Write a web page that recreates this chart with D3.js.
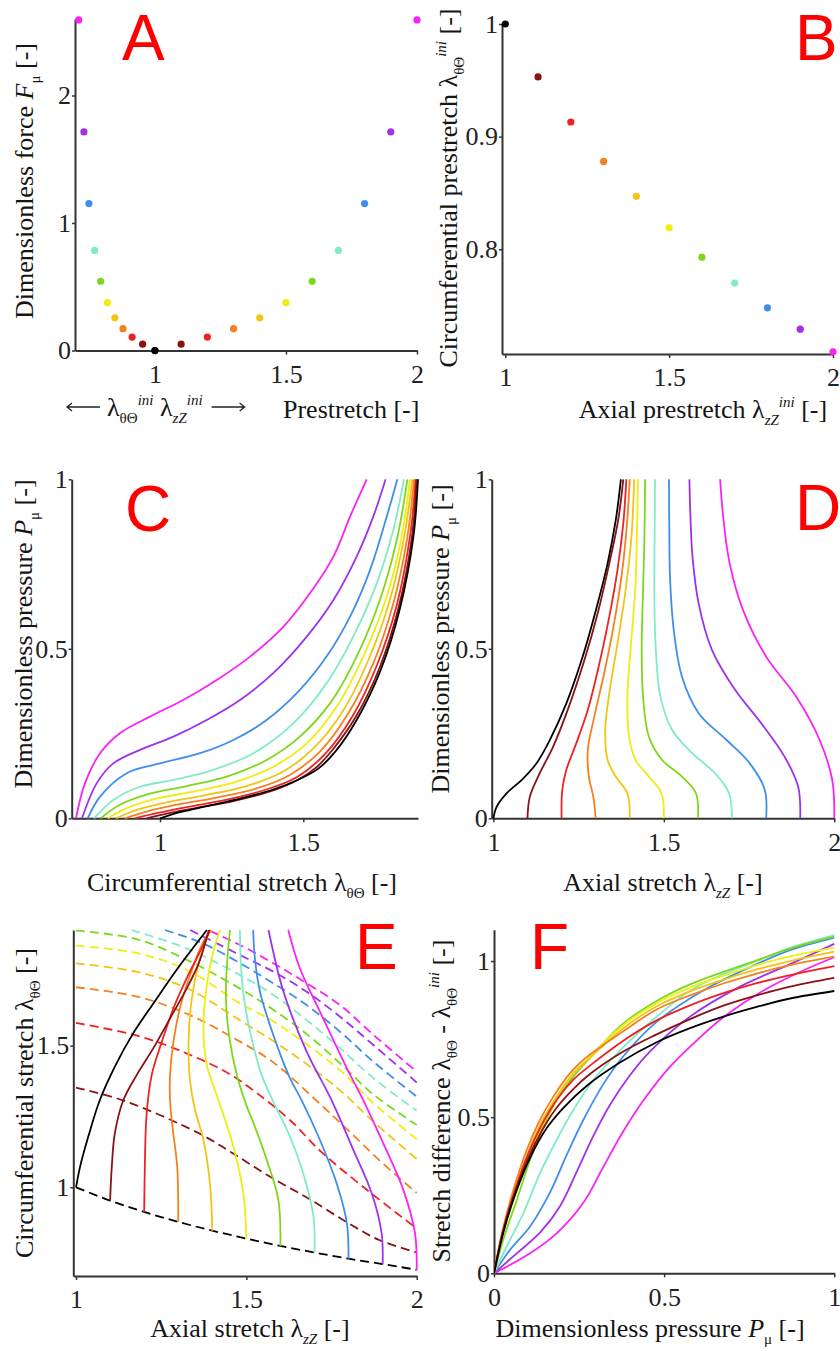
<!DOCTYPE html>
<html>
<head>
<meta charset="utf-8">
<script src="https://cdn.jsdelivr.net/npm/d3@7"></script>
<style>
  body { margin: 0; background: #fff; }
</style>
</head>
<body>
<div id="container"></div>
<script>
// ---- data ----
// prestretch pairs (panels A, B, bottom dashed line of E)
const lamZIni = [1.0, 1.1, 1.2, 1.3, 1.4, 1.5, 1.6, 1.7, 1.8, 1.9, 2.0];
const lamThetaIni = [1.000, 0.953, 0.913, 0.878, 0.847, 0.819, 0.793, 0.770, 0.748, 0.729, 0.709];
const forceF = [0, 0.050, 0.105, 0.171, 0.257, 0.375, 0.543, 0.785, 1.152, 1.714, 2.593];

// C: circumferential stretch vs pressure, one curve per prestretch
const curvesC = [
  [[1.0,0],[1.07,0.018],[1.163,0.036],[1.279,0.058],[1.395,0.085],[1.48,0.113],[1.55,0.145],[1.61,0.195],[1.686,0.29],[1.77,0.438],[1.837,0.619],[1.884,0.831],[1.9,1.0]],
  [[0.953,0],[1.023,0.014],[1.128,0.031],[1.256,0.051],[1.384,0.079],[1.48,0.113],[1.545,0.15],[1.6,0.2],[1.68,0.295],[1.765,0.442],[1.833,0.624],[1.879,0.831],[1.895,1.0]],
  [[0.913,0],[0.988,0.015],[1.093,0.033],[1.233,0.055],[1.36,0.082],[1.477,0.121],[1.576,0.19],[1.672,0.302],[1.756,0.45],[1.826,0.629],[1.872,0.831],[1.892,1.0]],
  [[0.878,0],[0.953,0.02],[1.058,0.04],[1.198,0.061],[1.337,0.088],[1.453,0.128],[1.558,0.197],[1.657,0.31],[1.744,0.457],[1.814,0.634],[1.863,0.831],[1.886,1.0]],
  [[0.847,0],[0.919,0.025],[1.023,0.047],[1.163,0.069],[1.302,0.095],[1.43,0.138],[1.535,0.206],[1.64,0.319],[1.727,0.467],[1.802,0.644],[1.852,0.831],[1.88,1.0]],
  [[0.818,0],[0.884,0.03],[0.977,0.056],[1.116,0.079],[1.256,0.105],[1.395,0.152],[1.512,0.221],[1.616,0.329],[1.709,0.477],[1.791,0.654],[1.843,0.831],[1.872,1.0]],
  [[0.793,0],[0.86,0.04],[0.953,0.07],[1.093,0.095],[1.233,0.123],[1.372,0.172],[1.488,0.241],[1.593,0.339],[1.686,0.477],[1.767,0.644],[1.826,0.821],[1.863,1.0]],
  [[0.77,0],[0.837,0.054],[0.93,0.093],[1.047,0.113],[1.186,0.143],[1.326,0.192],[1.465,0.28],[1.581,0.398],[1.674,0.536],[1.756,0.693],[1.814,0.851],[1.851,1.0]],
  [[0.748,0],[0.791,0.064],[0.884,0.133],[1.0,0.162],[1.14,0.192],[1.256,0.231],[1.372,0.29],[1.488,0.379],[1.581,0.477],[1.663,0.595],[1.733,0.733],[1.791,0.89],[1.828,1.0]],
  [[0.728,0],[0.779,0.103],[0.837,0.162],[0.93,0.202],[1.047,0.241],[1.163,0.29],[1.279,0.349],[1.395,0.428],[1.512,0.536],[1.605,0.644],[1.686,0.772],[1.744,0.89],[1.787,1.0]],
  [[0.707,0],[0.738,0.103],[0.791,0.192],[0.86,0.251],[0.965,0.3],[1.081,0.349],[1.198,0.408],[1.314,0.477],[1.43,0.565],[1.523,0.664],[1.605,0.772],[1.663,0.89],[1.721,1.0]]
];

// D: axial stretch vs pressure
const curvesD = [
  [[1.0,0],[1.01,0.035],[1.04,0.075],[1.085,0.115],[1.125,0.16],[1.165,0.23],[1.214,0.339],[1.262,0.477],[1.301,0.615],[1.335,0.752],[1.359,0.88],[1.374,1.0]],
  [[1.1,0],[1.107,0.064],[1.136,0.133],[1.175,0.211],[1.218,0.32],[1.267,0.467],[1.306,0.605],[1.34,0.752],[1.366,0.88],[1.381,1.0]],
  [[1.2,0],[1.202,0.084],[1.214,0.143],[1.243,0.221],[1.277,0.32],[1.311,0.457],[1.34,0.595],[1.364,0.733],[1.381,0.87],[1.39,1.0]],
  [[1.3,0],[1.293,0.064],[1.28,0.123],[1.277,0.202],[1.296,0.3],[1.325,0.428],[1.354,0.575],[1.377,0.723],[1.392,0.87],[1.4,1.0]],
  [[1.4,0],[1.393,0.074],[1.359,0.123],[1.335,0.172],[1.328,0.261],[1.34,0.369],[1.364,0.516],[1.388,0.674],[1.405,0.831],[1.413,1.0]],
  [[1.5,0],[1.493,0.074],[1.456,0.123],[1.417,0.172],[1.398,0.241],[1.393,0.359],[1.403,0.506],[1.416,0.674],[1.421,0.831],[1.424,1.0]],
  [[1.6,0],[1.594,0.074],[1.553,0.123],[1.495,0.172],[1.456,0.241],[1.439,0.359],[1.435,0.506],[1.439,0.674],[1.443,0.831],[1.445,1.0]],
  [[1.7,0],[1.691,0.074],[1.65,0.133],[1.583,0.192],[1.524,0.261],[1.49,0.359],[1.476,0.506],[1.472,0.674],[1.473,0.831],[1.474,1.0]],
  [[1.8,0],[1.796,0.084],[1.752,0.162],[1.684,0.231],[1.602,0.31],[1.553,0.418],[1.529,0.556],[1.518,0.713],[1.516,0.851],[1.515,1.0]],
  [[1.9,0],[1.894,0.093],[1.854,0.182],[1.786,0.28],[1.709,0.379],[1.641,0.497],[1.602,0.634],[1.584,0.772],[1.578,0.89],[1.575,1.0]],
  [[2.0,0],[1.994,0.113],[1.957,0.231],[1.888,0.359],[1.8,0.477],[1.732,0.615],[1.693,0.752],[1.675,0.88],[1.665,1.0]]
];

// E: solid = loading path per prestretch, dashed = iso-pressure lines (P = 0.1 ... 1)
const solidE = [
  [[1.0,1.0],[1.012,1.073],[1.036,1.179],[1.07,1.308],[1.114,1.426],[1.168,1.544],[1.227,1.649],[1.295,1.767],[1.354,1.861],[1.384,1.908]],
  [[1.1,0.953],[1.105,1.073],[1.114,1.191],[1.139,1.308],[1.178,1.396],[1.227,1.491],[1.276,1.596],[1.325,1.702],[1.36,1.79],[1.39,1.908]],
  [[1.2,0.913],[1.202,1.073],[1.207,1.255],[1.222,1.396],[1.252,1.514],[1.286,1.632],[1.325,1.738],[1.369,1.844],[1.393,1.908]],
  [[1.3,0.878],[1.297,1.073],[1.283,1.214],[1.276,1.308],[1.276,1.396],[1.286,1.514],[1.305,1.632],[1.335,1.749],[1.369,1.855],[1.395,1.908]],
  [[1.4,0.847],[1.393,1.014],[1.374,1.167],[1.348,1.28],[1.333,1.396],[1.331,1.538],[1.34,1.667],[1.359,1.785],[1.384,1.879],[1.398,1.908]],
  [[1.5,0.818],[1.491,0.979],[1.462,1.143],[1.418,1.308],[1.384,1.432],[1.374,1.573],[1.384,1.714],[1.403,1.832],[1.423,1.908]],
  [[1.6,0.793],[1.594,0.955],[1.56,1.096],[1.525,1.214],[1.5,1.29],[1.472,1.396],[1.449,1.538],[1.44,1.667],[1.443,1.785],[1.452,1.908]],
  [[1.7,0.77],[1.697,0.896],[1.667,1.049],[1.628,1.179],[1.58,1.3],[1.545,1.396],[1.513,1.538],[1.493,1.667],[1.484,1.785],[1.481,1.908]],
  [[1.8,0.748],[1.795,0.873],[1.765,1.014],[1.716,1.167],[1.662,1.308],[1.628,1.385],[1.579,1.538],[1.54,1.69],[1.525,1.808],[1.52,1.908]],
  [[1.9,0.728],[1.897,0.838],[1.868,0.979],[1.814,1.132],[1.75,1.308],[1.677,1.479],[1.609,1.69],[1.565,1.908]],
  [[2.0,0.707],[1.995,0.838],[1.961,0.99],[1.902,1.155],[1.843,1.308],[1.795,1.42],[1.716,1.62],[1.657,1.773],[1.623,1.908]]
];
const dashedE = [
  [[1.0,1.352],[1.14,1.306],[1.36,1.191],[1.46,1.12],[1.57,1.037],[1.69,0.955],[1.8,0.873],[1.89,0.814],[2.0,0.77]],
  [[1.0,1.58],[1.18,1.535],[1.33,1.47],[1.45,1.40],[1.55,1.315],[1.63,1.235],[1.72,1.125],[1.86,0.985],[2.0,0.855]],
  [[1.0,1.706],[1.18,1.673],[1.33,1.61],[1.48,1.515],[1.58,1.44],[1.72,1.29],[1.8,1.2],[1.89,1.096],[2.0,0.98]],
  [[1.0,1.79],[1.18,1.76],[1.33,1.70],[1.48,1.59],[1.58,1.515],[1.68,1.432],[1.78,1.337],[1.87,1.235],[2.0,1.10]],
  [[1.0,1.853],[1.18,1.826],[1.33,1.765],[1.48,1.65],[1.58,1.585],[1.68,1.502],[1.78,1.408],[1.87,1.30],[2.0,1.17]],
  [[1.0,1.906],[1.18,1.875],[1.33,1.8],[1.48,1.702],[1.58,1.626],[1.68,1.538],[1.78,1.432],[1.87,1.33],[2.0,1.22]],
  [[1.163,1.908],[1.32,1.845],[1.481,1.749],[1.579,1.679],[1.677,1.59],[1.775,1.491],[1.873,1.385],[2.0,1.27]],
  [[1.261,1.908],[1.374,1.86],[1.481,1.791],[1.579,1.72],[1.677,1.643],[1.775,1.549],[1.873,1.443],[2.0,1.32]],
  [[1.335,1.908],[1.481,1.82],[1.579,1.761],[1.677,1.69],[1.775,1.602],[1.873,1.502],[2.0,1.37]],
  [[1.393,1.905],[1.491,1.849],[1.58,1.79],[1.677,1.72],[1.775,1.643],[1.873,1.538],[2.0,1.408]]
];

// F: stretch difference vs pressure
const curvesF = [
  [[0,0],[0.032,0.149],[0.067,0.267],[0.106,0.37],[0.155,0.465],[0.204,0.53],[0.272,0.6],[0.37,0.675],[0.478,0.74],[0.576,0.785],[0.674,0.822],[0.772,0.853],[0.87,0.88],[1.0,0.904]],
  [[0,0],[0.027,0.135],[0.062,0.26],[0.101,0.37],[0.14,0.455],[0.184,0.53],[0.233,0.59],[0.282,0.638],[0.38,0.71],[0.478,0.765],[0.576,0.814],[0.674,0.857],[0.772,0.89],[0.87,0.918],[1.0,0.946]],
  [[0,0],[0.027,0.139],[0.062,0.267],[0.101,0.384],[0.14,0.475],[0.184,0.555],[0.233,0.62],[0.282,0.665],[0.38,0.745],[0.478,0.81],[0.576,0.858],[0.674,0.897],[0.772,0.929],[0.87,0.955],[1.0,0.984]],
  [[0,0],[0.023,0.128],[0.057,0.267],[0.096,0.395],[0.135,0.491],[0.174,0.565],[0.223,0.64],[0.262,0.683],[0.38,0.775],[0.478,0.845],[0.576,0.89],[0.674,0.928],[0.772,0.96],[0.87,0.987],[1.0,1.014]],
  [[0,0],[0.025,0.13],[0.062,0.27],[0.101,0.39],[0.14,0.485],[0.184,0.565],[0.233,0.64],[0.282,0.69],[0.38,0.785],[0.478,0.855],[0.576,0.903],[0.674,0.94],[0.772,0.973],[0.87,1.0],[1.0,1.03]],
  [[0,0],[0.027,0.128],[0.067,0.267],[0.106,0.384],[0.145,0.48],[0.184,0.565],[0.233,0.64],[0.272,0.683],[0.38,0.795],[0.478,0.865],[0.576,0.915],[0.674,0.953],[0.772,0.987],[0.87,1.015],[1.0,1.043]],
  [[0,0],[0.027,0.107],[0.067,0.235],[0.106,0.363],[0.145,0.47],[0.184,0.555],[0.233,0.63],[0.282,0.69],[0.38,0.80],[0.478,0.872],[0.576,0.925],[0.674,0.965],[0.772,1.002],[0.87,1.04],[1.0,1.078]],
  [[0,0],[0.037,0.085],[0.086,0.192],[0.135,0.32],[0.184,0.427],[0.233,0.523],[0.292,0.619],[0.341,0.68],[0.429,0.775],[0.576,0.905],[0.674,0.958],[0.772,1.0],[0.87,1.042],[1.0,1.083]],
  [[0,0],[0.047,0.075],[0.106,0.15],[0.165,0.26],[0.214,0.38],[0.262,0.49],[0.321,0.605],[0.38,0.695],[0.478,0.805],[0.625,0.912],[0.772,0.99],[0.87,1.035],[1.0,1.075]],
  [[0,0],[0.067,0.064],[0.135,0.13],[0.194,0.215],[0.243,0.325],[0.292,0.44],[0.341,0.54],[0.40,0.635],[0.458,0.71],[0.576,0.822],[0.723,0.918],[0.87,0.99],[1.0,1.055]],
  [[0,0],[0.1,0.06],[0.184,0.128],[0.262,0.225],[0.321,0.34],[0.38,0.455],[0.45,0.57],[0.52,0.665],[0.6,0.75],[0.674,0.82],[0.791,0.905],[0.899,0.965],[1.0,1.012]]
];

// tick labels
const ticksA = { x: [1, 1.5, 2], y: [0, 1, 2] };
const ticksB = { x: [1, 1.5, 2], y: [0.8, 0.9, 1] };
const ticksC = { x: [1, 1.5], y: [0, 0.5, 1] };
const ticksD = { x: [1, 1.5, 2], y: [0, 0.5, 1] };
const ticksE = { x: [1, 1.5, 2], y: [1, 1.5] };
const ticksF = { x: [0, 0.5, 1], y: [0, 0.5, 1] };

const palette = ["#000000", "#8b1212", "#ee2222", "#f5801e", "#f3c412", "#eeee10",
                 "#7ed81a", "#80ebc8", "#3f8fea", "#9e32ec", "#fa22f4"];

const serif = "Liberation Serif, Times New Roman, serif";
const svg = d3.select("#container").append("svg")
  .attr("width", 840)
  .attr("height", 1351)
  .attr("font-family", serif);

function panel(id, xDom, xRange, yDom, yRange, ticks) {
  const x = d3.scaleLinear().domain(xDom).range(xRange);
  const y = d3.scaleLinear().domain(yDom).range(yRange);
  const g = svg.append("g").attr("id", id);
  svg.append("clipPath").attr("id", "clip-" + id).append("rect")
    .attr("x", xRange[0])
    .attr("y", yRange[1] - 2)
    .attr("width", xRange[1] - xRange[0] + 2)
    .attr("height", yRange[0] - yRange[1] + 4);
  const xAxis = g.append("g")
    .attr("transform", `translate(0,${yRange[0]})`)
    .call(d3.axisBottom(x).tickValues(ticks.x).tickFormat(d => d)
      .tickSizeInner(4).tickSizeOuter(0).tickPadding(10));
  const yAxis = g.append("g")
    .attr("transform", `translate(${xRange[0]},0)`)
    .call(d3.axisLeft(y).tickValues(ticks.y).tickFormat(d => d)
      .tickSizeInner(3).tickSizeOuter(0).tickPadding(1));
  [xAxis, yAxis].forEach(a => {
    a.attr("font-size", 26).attr("font-family", serif);
    a.select(".domain").attr("stroke", "#333").attr("stroke-width", 2);
    a.selectAll(".tick line").attr("stroke", "#333").attr("stroke-width", 1.5);
    a.selectAll(".tick text").attr("fill", "#222");
  });
  const plot = g.append("g").attr("clip-path", `url(#clip-${id})`);
  return { x, y, g, plot };
}

// text with sub/superscripts
function rich(parent, parts, transform, anchor) {
  const t = parent.append("text")
    .attr("font-size", 26)
    .attr("fill", "#151515")
    .attr("text-anchor", anchor || "middle")
    .attr("transform", transform);
  let shift = 0;
  parts.forEach(([s, k]) => {
    let target = 0, size = null, italic = false;
    if (k === "sub") { target = 7; size = 15; }
    if (k === "isub") { target = 7; size = 15; italic = true; }
    if (k === "sup") { target = -11; size = 15; italic = true; }
    if (k === "i") italic = true;
    const ts = t.append("tspan").text(s).attr("dy", target - shift);
    if (size) ts.attr("font-size", size);
    if (italic) ts.attr("font-style", "italic");
    shift = target;
  });
  return t;
}

function letter(txt, x, y) {
  svg.append("text").text(txt)
    .attr("x", x).attr("y", y)
    .attr("font-family", "Liberation Sans, Arial, sans-serif")
    .attr("font-size", 64)
    .attr("fill", "#ff0000");
}

function drawCurves(p, curves, dashed) {
  const line = d3.line()
    .x(d => p.x(d[0]))
    .y(d => p.y(d[1]))
    .curve(d3.curveCatmullRom.alpha(0.5));
  p.plot.selectAll(null).data(curves.map((c, i) => ({ c, i })).reverse())
    .join("path")
    .attr("d", d => line(d.c))
    .attr("fill", "none")
    .attr("stroke", d => palette[d.i + (dashed ? 1 : 0)])
    .attr("stroke-width", 1.8)
    .attr("stroke-dasharray", dashed ? "9,5" : null);
}

const labP = [["Dimensionless pressure ", "n"], ["P", "i"], ["μ", "sub"], [" [-]", "n"]];
const labAxial = [["Axial stretch λ", "n"], ["zZ", "isub"], [" [-]", "n"]];
const labCirc = [["Circumferential stretch λ", "n"], ["θΘ", "sub"], [" [-]", "n"]];

// ---- A ----
const pA = panel("A", [0.695, 2], [75, 417], [0, 2.6], [350.5, 19], ticksA);
const dotsA = lamZIni.map((z, i) => ({ v: lamThetaIni[i], f: forceF[i], i }))
  .concat(lamZIni.map((z, i) => ({ v: z, f: forceF[i], i })));
pA.g.selectAll(".dot").data(dotsA).join("circle")
  .attr("cx", d => pA.x(d.v))
  .attr("cy", d => pA.y(d.f))
  .attr("r", 3.6)
  .attr("fill", d => palette[d.i]);
rich(pA.g, [["Dimensionless force ", "n"], ["F", "i"], ["μ", "sub"], [" [-]", "n"]], "translate(33,181) rotate(-90)");
rich(pA.g, [["Prestretch [-]", "n"]], "translate(283,418)", "start");
const arrowText = rich(pA.g, [["λ", "n"], ["θΘ", "sub"], ["ini", "sup"], ["  λ", "n"], ["zZ", "isub"], ["ini", "sup"]], "translate(107,416)", "start");
const bb = arrowText.node().getBBox();
const ay = 407;
const ax0 = 107 + bb.x - 7, ax1 = 107 + bb.x + bb.width + 9;
pA.g.append("path")
  .attr("d", `M${ax0 - 33},${ay}H${ax0} M${ax0 - 28},${ay - 4}L${ax0 - 33},${ay}L${ax0 - 28},${ay + 4}`)
  .attr("stroke", "#222").attr("stroke-width", 1.3).attr("fill", "none");
pA.g.append("path")
  .attr("d", `M${ax1},${ay}H${ax1 + 33} M${ax1 + 28},${ay - 4}L${ax1 + 33},${ay}L${ax1 + 28},${ay + 4}`)
  .attr("stroke", "#222").attr("stroke-width", 1.3).attr("fill", "none");
letter("A", 122, 60);

// ---- B ----
const pB = panel("B", [0.99, 2], [502, 833], [0.707, 1], [354, 24], ticksB);
pB.g.selectAll(".dot").data(lamZIni.map((z, i) => ({ z, t: lamThetaIni[i], i }))).join("circle")
  .attr("cx", d => pB.x(d.z))
  .attr("cy", d => pB.y(d.t))
  .attr("r", 3.6)
  .attr("fill", d => palette[d.i]);
rich(pB.g, [["Circumferential prestretch λ", "n"], ["θΘ", "sub"], ["ini", "sup"], [" [-]", "n"]], "translate(457,188) rotate(-90)");
rich(pB.g, [["Axial prestretch λ", "n"], ["zZ", "isub"], ["ini", "sup"], [" [-]", "n"]], "translate(703,418)");
letter("B", 795, 60);

// ---- C ----
const pC = panel("C", [0.692, 1.9], [71.7, 418], [0, 1], [818.3, 479.3], ticksC);
drawCurves(pC, curvesC, false);
rich(pC.g, labP, "translate(32,634) rotate(-90)");
rich(pC.g, labCirc, "translate(242,891)");
letter("C", 125, 531);

// ---- D ----
const pD = panel("D", [0.995, 2], [491.7, 834.3], [0, 1], [818.3, 479.3], ticksD);
drawCurves(pD, curvesD, false);
rich(pD.g, labP, "translate(449,639) rotate(-90)");
rich(pD.g, labAxial, "translate(663,891)");
letter("D", 795, 530);

// ---- E ----
const pE = panel("E", [0.992, 2], [73.3, 416.7], [0.687, 1.908], [1276, 930], ticksE);
// P = 0 line joins the prestretch states of panel B
const baseE = lamZIni.map((z, i) => [z, lamThetaIni[i]]);
drawCurves(pE, [baseE], false);
pE.plot.select("path").attr("stroke-dasharray", "9,5").attr("stroke", palette[0]);
drawCurves(pE, dashedE, true);
drawCurves(pE, solidE, false);
rich(pE.g, labCirc, "translate(33,1103) rotate(-90)");
rich(pE.g, labAxial, "translate(250,1337)");
letter("E", 355, 969);

// ---- F ----
const pF = panel("F", [0, 1], [494, 834.3], [0, 1.1], [1273.3, 929.8], ticksF);
drawCurves(pF, curvesF, false);
rich(pF.g, [["Stretch difference λ", "n"], ["θΘ", "sub"], [" - λ", "n"], ["θΘ", "sub"], ["ini", "sup"], [" [-]", "n"]], "translate(450,1101) rotate(-90)");
rich(pF.g, labP, "translate(650,1337)");
letter("F", 530, 969);
</script>
</body>
</html>
